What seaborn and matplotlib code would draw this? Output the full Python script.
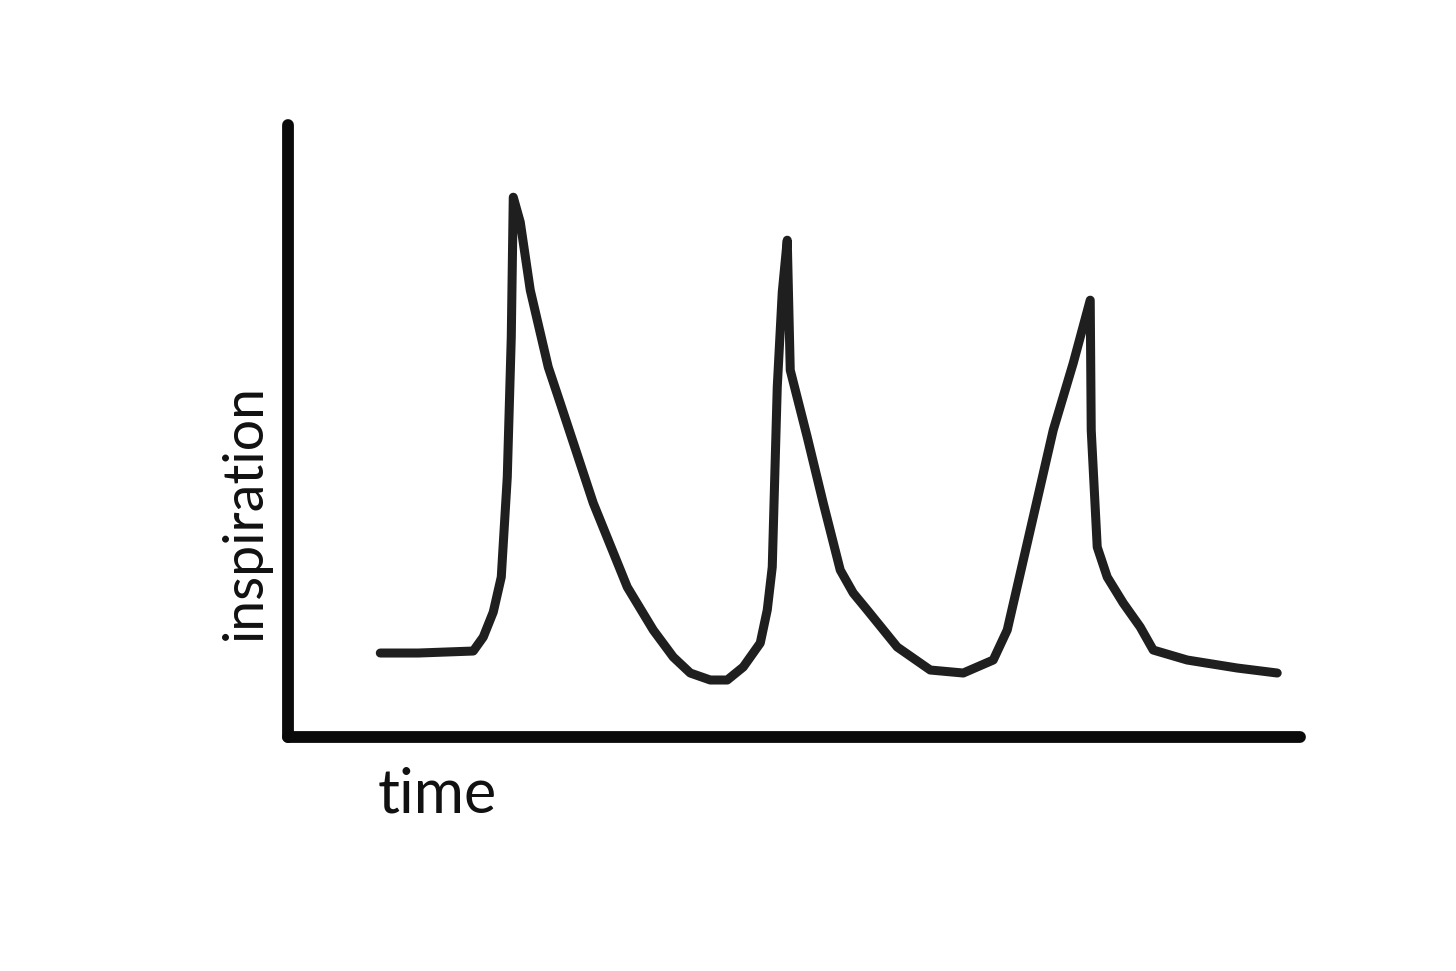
import matplotlib
matplotlib.use("Agg")
import matplotlib.pyplot as plt
import seaborn as sns
import pandas as pd

# hand-drawn curve (time, inspiration)
time = [9.2, 13.0, 18.5, 19.5, 20.5, 21.3, 21.9, 22.3, 22.5, 23.2, 24.2, 26.0,
        27.2, 30.5, 33.9, 36.5, 38.5, 40.2, 42.2, 43.9, 45.5, 47.2, 47.9, 48.4,
        48.9, 49.4, 49.9, 50.2, 51.9, 53.5, 55.2, 56.5, 57.9, 60.9, 64.2, 67.5,
        70.5, 71.9, 74.2, 76.5, 78.5, 80.2, 80.3, 80.3, 80.9, 81.9, 83.5, 85.2,
        86.5, 89.9, 94.9, 98.9]
inspiration = [8.4, 8.4, 8.6, 10.0, 12.5, 16.0, 26.0, 40.0, 54.0, 51.5, 44.7,
               37.0, 33.4, 23.4, 15.0, 10.7, 8.0, 6.4, 5.7, 5.7, 7.0, 9.4, 12.7,
               17.0, 35.0, 44.5, 49.7, 36.7, 30.0, 23.4, 16.7, 14.4, 12.7, 9.0,
               6.7, 6.4, 7.7, 10.7, 20.7, 30.7, 37.4, 43.7, 35.7, 25.7, 19.0,
               16.0, 13.4, 11.0, 8.7, 7.7, 6.9, 6.4]

df = pd.DataFrame({"time": time, "inspiration": inspiration})

sns.set_style("white")
plt.rcParams["font.family"] = ["Lato", "DejaVu Sans"]

fig = plt.figure(figsize=(14.56, 9.71), dpi=100)
ax = fig.add_axes([0.198, 0.241, 0.695, 0.630])

sns.lineplot(data=df, x="time", y="inspiration", ax=ax, color="#1f1f1f",
             linewidth=6.5, solid_capstyle="round", solid_joinstyle="round",
             sort=False)

ax.set_xlim(0, 101.2)
ax.set_ylim(0, 61.2)
ax.set_xticks([])
ax.set_yticks([])
sns.despine(ax=ax)
for side in ["left", "bottom"]:
    ax.spines[side].set_linewidth(8.5)
    ax.spines[side].set_color("#0a0a0a")
    ax.spines[side].set_capstyle("round")

ax.set_xlabel("time", fontsize=44, color="#111111")
ax.set_ylabel("inspiration", fontsize=40, color="#111111")
ax.xaxis.set_label_coords(0.147, -0.095)
ax.xaxis.label.set_va("center")
ax.yaxis.set_label_coords(-0.0425, 0.368)
ax.yaxis.label.set_va("center")

fig.savefig("out.png", dpi=100, facecolor="white")
